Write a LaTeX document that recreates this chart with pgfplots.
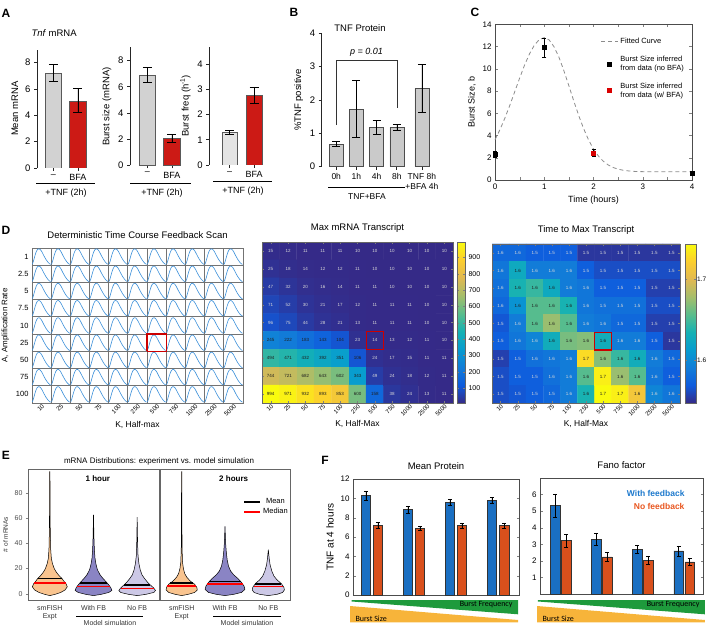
\documentclass[border=0pt]{standalone}
\usepackage{fontspec}
\setmainfont{Liberation Sans}
\newfontfamily\calibri{Carlito}
\usepackage{pgfplots}
\usepackage{pgfplotstable}
\pgfplotsset{compat=1.18}

\definecolor{barGray}{HTML}{D2D2D2}
\definecolor{barLight}{HTML}{E4E4E4}
\definecolor{barRed}{HTML}{CC1A15}
\definecolor{bGray}{HTML}{CACACA}
\definecolor{curveBlue}{HTML}{3A8FD9}
\definecolor{vOrange}{HTML}{F9C48F}
\definecolor{vPurple}{HTML}{8A84C4}
\definecolor{vLav}{HTML}{CCC8E6}
\definecolor{fBlue}{HTML}{1A6FC2}
\definecolor{fOrange}{HTML}{D9501C}
\definecolor{tBlue}{HTML}{1C78CC}
\definecolor{tOrange}{HTML}{E8561F}
\definecolor{wGreen}{HTML}{1E9A3C}
\definecolor{wOrange}{HTML}{F7B43A}
\definecolor{hmLight}{HTML}{D8D8D8}
\definecolor{hmDark}{HTML}{202020}

\newcommand{\fz}[2]{\fontsize{#1}{#2}\selectfont}

\pgfplotsset{
  every axis/.append style={scale only axis, /pgf/number format/assume math mode=true,
    tick label style={font=\fz{8}{9}}, label style={font=\fz{9}{10}}, title style={font=\fz{9.5}{11}},
    legend style={font=\fz{7.5}{9}}},
  pos/.style 2 args={at={(#1pt,#2pt)}, anchor=south west},
  errb/.style={error bars/.cd, y dir=both, y explicit, error bar style={black, line width=0.6pt},
    error mark options={rotate=90, mark size=#1, line width=0.6pt, black}},
  abar/.style={axis y line=left, axis x line=bottom, axis line style={-, black!85, line width=0.7pt},
    x axis line style={draw=none}, tick align=outside, major tick length=3pt,
    tick style={black!85, line width=0.7pt}, ymin=0,
    tick label style={font=\fz{9.5}{11}}, label style={font=\fz{9.5}{11}}, xticklabel style={font=\fz{9}{10}}},
  hm/.style={enlargelimits=false, xmin=0.5, xmax=11.5, ymin=0.5, ymax=9.5, y dir=reverse,
    xtick={1,...,11}, xticklabels={10,25,50,75,100,250,500,750,1000,2500,5000},
    ytick={1,...,9}, yticklabels={}, tick align=inside, major tick length=2pt,
    xticklabel style={rotate=45, anchor=north east, font=\fz{6}{7}, inner sep=0.5pt},
    xlabel={K, Half-Max}, axis on top, axis line style={black!60}},
  ebox/.style={xmin=0.5, xmax=3.5, ymin=-5, ymax=99, xtick={1,2,3},
    xticklabels={{smFISH\\Expt},{With FB},{No FB}},
    xticklabel style={align=center, font=\fz{7}{8.5}, text=black!80},
    x tick style={draw=none}, ytick pos=left, tick align=outside, major tick length=2pt,
    yticklabel style={font=\fz{7}{8}, text=black!70},
    axis line style={black!60, line width=0.9pt}, clip=false},
  fbox/.style={xtick=\empty, tick align=inside, major tick length=2.5pt,
    axis line style={black!70, line width=0.6pt}, clip=false,
    yticklabel style={font=\fz{8}{9}}},
  colormap={parula}{rgb255=(53,42,135) rgb255=(15,92,221) rgb255=(18,125,216) rgb255=(7,156,207) rgb255=(21,177,180) rgb255=(89,189,140) rgb255=(165,190,107) rgb255=(225,185,82) rgb255=(252,206,46) rgb255=(249,251,14)},
}

% single pulse shape drawn in each cell of the scan grid
\pgfplotstableread[row sep=\\]{
t v\\
0.02 0.06\\ 0.07 0.22\\ 0.12 0.42\\ 0.17 0.62\\ 0.22 0.78\\ 0.27 0.89\\ 0.32 0.94\\ 0.37 0.95\\
0.42 0.92\\ 0.47 0.86\\ 0.52 0.77\\ 0.57 0.66\\ 0.62 0.55\\ 0.67 0.45\\ 0.72 0.35\\ 0.77 0.27\\
0.82 0.19\\ 0.87 0.13\\ 0.92 0.08\\ 0.97 0.05\\
}\pulse

\pgfplotstableread[row sep=\\]{
x y v\\
1 1 15\\ 2 1 12\\ 3 1 11\\ 4 1 11\\ 5 1 11\\ 6 1 10\\ 7 1 10\\ 8 1 10\\ 9 1 10\\ 10 1 10\\ 11 1 10\\
1 2 25\\ 2 2 18\\ 3 2 14\\ 4 2 12\\ 5 2 12\\ 6 2 11\\ 7 2 10\\ 8 2 10\\ 9 2 10\\ 10 2 10\\ 11 2 10\\
1 3 47\\ 2 3 32\\ 3 3 20\\ 4 3 16\\ 5 3 14\\ 6 3 11\\ 7 3 11\\ 8 3 10\\ 9 3 10\\ 10 3 10\\ 11 3 10\\
1 4 71\\ 2 4 52\\ 3 4 30\\ 4 4 21\\ 5 4 17\\ 6 4 12\\ 7 4 11\\ 8 4 11\\ 9 4 11\\ 10 4 10\\ 11 4 10\\
1 5 96\\ 2 5 75\\ 3 5 44\\ 4 5 28\\ 5 5 21\\ 6 5 13\\ 7 5 11\\ 8 5 11\\ 9 5 11\\ 10 5 10\\ 11 5 10\\
1 6 245\\ 2 6 222\\ 3 6 183\\ 4 6 143\\ 5 6 104\\ 6 6 23\\ 7 6 14\\ 8 6 13\\ 9 6 12\\ 10 6 11\\ 11 6 10\\
1 7 494\\ 2 7 471\\ 3 7 432\\ 4 7 392\\ 5 7 351\\ 6 7 106\\ 7 7 24\\ 8 7 17\\ 9 7 15\\ 10 7 11\\ 11 7 11\\
1 8 744\\ 2 8 721\\ 3 8 682\\ 4 8 643\\ 5 8 602\\ 6 8 343\\ 7 8 49\\ 8 8 24\\ 9 8 18\\ 10 8 12\\ 11 8 11\\
1 9 994\\ 2 9 971\\ 3 9 932\\ 4 9 893\\ 5 9 853\\ 6 9 600\\ 7 9 158\\ 8 9 38\\ 9 9 24\\ 10 9 13\\ 11 9 11\\
}\mrnatab

\pgfplotstableread[row sep=\\]{
x y f lab\\
1 1 .15 1.6\\ 2 1 .15 1.6\\ 3 1 .12 1.5\\ 4 1 .12 1.5\\ 5 1 .12 1.5\\ 6 1 .03 1.5\\ 7 1 .03 1.5\\ 8 1 .03 1.5\\ 9 1 .03 1.5\\ 10 1 .03 1.5\\ 11 1 .03 1.5\\
1 2 .20 1.6\\ 2 2 .40 1.6\\ 3 2 .22 1.6\\ 4 2 .22 1.6\\ 5 2 .22 1.6\\ 6 2 .12 1.5\\ 7 2 .08 1.5\\ 8 2 .08 1.5\\ 9 2 .08 1.5\\ 10 2 .08 1.5\\ 11 2 .08 1.5\\
1 3 .18 1.6\\ 2 3 .45 1.6\\ 3 3 .50 1.6\\ 4 3 .40 1.6\\ 5 3 .22 1.6\\ 6 3 .20 1.6\\ 7 3 .12 1.5\\ 8 3 .12 1.5\\ 9 3 .12 1.5\\ 10 3 .05 1.5\\ 11 3 .05 1.5\\
1 4 .15 1.6\\ 2 4 .30 1.6\\ 3 4 .55 1.6\\ 4 4 .55 1.6\\ 5 4 .45 1.6\\ 6 4 .20 1.6\\ 7 4 .18 1.5\\ 8 4 .18 1.5\\ 9 4 .18 1.5\\ 10 4 .08 1.5\\ 11 4 .08 1.5\\
1 5 .10 1.5\\ 2 5 .22 1.6\\ 3 5 .55 1.6\\ 4 5 .65 1.6\\ 5 5 .55 1.6\\ 6 5 .22 1.6\\ 7 5 .20 1.6\\ 8 5 .15 1.5\\ 9 5 .15 1.5\\ 10 5 .05 1.5\\ 11 5 .05 1.5\\
1 6 .12 1.5\\ 2 6 .20 1.6\\ 3 6 .25 1.6\\ 4 6 .42 1.6\\ 5 6 .60 1.6\\ 6 6 .62 1.6\\ 7 6 .42 1.6\\ 8 6 .22 1.6\\ 9 6 .22 1.6\\ 10 6 .12 1.5\\ 11 6 .03 1.5\\
1 7 .05 1.5\\ 2 7 .12 1.5\\ 3 7 .18 1.6\\ 4 7 .20 1.6\\ 5 7 .22 1.6\\ 6 7 .92 1.7\\ 7 7 .62 1.6\\ 8 7 .50 1.6\\ 9 7 .42 1.6\\ 10 7 .22 1.6\\ 11 7 .15 1.5\\
1 8 .08 1.5\\ 2 8 .12 1.5\\ 3 8 .12 1.5\\ 4 8 .18 1.6\\ 5 8 .22 1.6\\ 6 8 .55 1.6\\ 7 8 .97 1.7\\ 8 8 .65 1.6\\ 9 8 .55 1.6\\ 10 8 .20 1.6\\ 11 8 .12 1.5\\
1 9 .08 1.5\\ 2 9 .10 1.5\\ 3 9 .12 1.5\\ 4 9 .15 1.5\\ 5 9 .22 1.6\\ 6 9 .45 1.6\\ 7 9 1.0 1.7\\ 8 9 .97 1.7\\ 9 9 .85 1.6\\ 10 9 .25 1.6\\ 11 9 .20 1.6\\
}\timetab

% violin outlines: (y, signed half-width), right side upward then left side downward
\pgfplotstableread[row sep=\\]{
y w\\
-1.5 0\\ -0.5 .12\\ 1 .25\\ 3 .35\\ 5.5 .40\\ 8 .37\\ 10 .32\\ 12 .28\\ 14 .22\\ 17 .15\\ 20 .10\\ 24 .06\\ 28 .035\\ 35 .02\\ 50 .01\\ 70 .006\\ 97 .003\\
97 -.003\\ 70 -.006\\ 50 -.01\\ 35 -.02\\ 28 -.035\\ 24 -.06\\ 20 -.10\\ 17 -.15\\ 14 -.22\\ 12 -.28\\ 10 -.32\\ 8 -.37\\ 5.5 -.40\\ 3 -.35\\ 1 -.25\\ -0.5 -.12\\ -1.5 0\\
}\vA
\pgfplotstableread[row sep=\\]{
y w\\
-1.5 0\\ -0.5 .18\\ 1 .35\\ 2.6 .42\\ 4.5 .40\\ 7 .35\\ 9 .30\\ 12 .22\\ 15 .15\\ 19 .09\\ 23 .06\\ 28 .035\\ 35 .02\\ 45 .01\\ 62.5 0\\
45 -.01\\ 35 -.02\\ 28 -.035\\ 23 -.06\\ 19 -.09\\ 15 -.15\\ 12 -.22\\ 9 -.30\\ 7 -.35\\ 4.5 -.40\\ 2.6 -.42\\ 1 -.35\\ -0.5 -.18\\ -1.5 0\\
}\vB
\pgfplotstableread[row sep=\\]{
y w\\
-1.5 0\\ -0.5 .20\\ 1 .38\\ 2.5 .42\\ 4.5 .38\\ 7 .30\\ 9 .24\\ 12 .17\\ 15 .11\\ 19 .07\\ 24 .04\\ 30 .02\\ 40 .01\\ 60.7 0\\
40 -.01\\ 30 -.02\\ 24 -.04\\ 19 -.07\\ 15 -.11\\ 12 -.17\\ 9 -.24\\ 7 -.30\\ 4.5 -.38\\ 2.5 -.42\\ 1 -.38\\ -0.5 -.20\\ -1.5 0\\
}\vC
\pgfplotstableread[row sep=\\]{
y w\\
-1.5 0\\ -0.5 .15\\ 1 .30\\ 3 .36\\ 5 .35\\ 7.5 .30\\ 10 .20\\ 13 .12\\ 16 .07\\ 20 .04\\ 25 .02\\ 35 .01\\ 60 .005\\ 97 .003\\
97 -.003\\ 60 -.005\\ 35 -.01\\ 25 -.02\\ 20 -.04\\ 16 -.07\\ 13 -.12\\ 10 -.20\\ 7.5 -.30\\ 5 -.35\\ 3 -.36\\ 1 -.30\\ -0.5 -.15\\ -1.5 0\\
}\vD
\pgfplotstableread[row sep=\\]{
y w\\
-1.5 0\\ -0.5 .20\\ 1 .38\\ 3.4 .46\\ 6 .44\\ 9 .38\\ 12 .30\\ 15 .20\\ 18 .13\\ 22 .08\\ 27 .05\\ 33 .03\\ 40 .015\\ 53.4 0\\
40 -.015\\ 33 -.03\\ 27 -.05\\ 22 -.08\\ 18 -.13\\ 15 -.20\\ 12 -.30\\ 9 -.38\\ 6 -.44\\ 3.4 -.46\\ 1 -.38\\ -0.5 -.20\\ -1.5 0\\
}\vE
\pgfplotstableread[row sep=\\]{
y w\\
-1.5 0\\ -0.5 .20\\ 1 .33\\ 3 .37\\ 5 .36\\ 8 .30\\ 11 .20\\ 14 .13\\ 18 .08\\ 23 .04\\ 28 .02\\ 35 0\\
28 -.02\\ 23 -.04\\ 18 -.08\\ 14 -.13\\ 11 -.20\\ 8 -.30\\ 5 -.36\\ 3 -.37\\ 1 -.33\\ -0.5 -.20\\ -1.5 0\\
}\vF

\newcommand{\violin}[3]{%
\addplot[fill=#3, draw=black, line width=0.5pt, forget plot] table[x expr=#2+\thisrow{w}, y=y]{#1} -- cycle;
}

\begin{document}
\begin{tikzpicture}[x=1pt,y=1pt]
\useasboundingbox (0,0) rectangle (708,629);

% ---------------- Panel A ----------------
\begin{axis}[pos={37}{461}, width=58pt, height=118.5pt, abar, xmin=0.33, xmax=2.7, ymax=9,
  ytick={0,2,4,6,8}, xtick={1,2}, xticklabels={--,BFA}, ylabel={Mean mRNA}]
\addplot[ybar, bar width=16.7pt, bar shift=0pt, fill=barGray, draw=black!65, line width=0.6pt, errb=4.5pt]
  coordinates {(1,7.2) +- (0,0.65)};
\addplot[ybar, bar width=16.7pt, bar shift=0pt, fill=barRed, draw=black!65, line width=0.6pt, errb=4.5pt]
  coordinates {(2,5.03) += (0,1.02) -= (0,0.8)};
\end{axis}

\begin{axis}[pos={130}{463.5}, width=61pt, height=118pt, abar, xmin=0.286, xmax=2.78, ymax=9,
  ytick={0,2,4,6,8}, xtick={1,2}, xticklabels={--,BFA}, ylabel={Burst size (mRNA)}]
\addplot[ybar, bar width=16.4pt, bar shift=0pt, fill=barGray, draw=black!65, line width=0.6pt, errb=4.5pt]
  coordinates {(1,6.9) +- (0,0.57)};
\addplot[ybar, bar width=16.4pt, bar shift=0pt, fill=barRed, draw=black!65, line width=0.6pt, errb=4.5pt]
  coordinates {(2,2.1) +- (0,0.3)};
\end{axis}

\begin{axis}[pos={209.3}{464}, width=62.7pt, height=118.4pt, abar, xmin=0.163, xmax=2.73, ymax=4.7,
  ytick={0,1,2,3,4}, xtick={1,2}, xticklabels={--,BFA}, ylabel={Burst freq (h\textsuperscript{-1})}]
\addplot[ybar, bar width=15.6pt, bar shift=0pt, fill=barLight, draw=black!65, line width=0.6pt, errb=4.5pt]
  coordinates {(1,1.29) +- (0,0.08)};
\addplot[ybar, bar width=15.6pt, bar shift=0pt, fill=barRed, draw=black!65, line width=0.6pt, errb=4.5pt]
  coordinates {(2,2.78) +- (0,0.32)};
\end{axis}

\node[anchor=west, font=\fz{9.5}{11}] at (28,596) {\textit{Tnf} mRNA};
\draw[line width=0.7pt] (36,446) -- (95,446);
\node[font=\fz{9}{10}] at (66,436) {+TNF (2h)};
\draw[line width=0.7pt] (130,446) -- (191,446);
\node[font=\fz{9}{10}] at (162,436) {+TNF (2h)};
\draw[line width=0.7pt] (213,448) -- (272,448);
\node[font=\fz{9}{10}] at (243,438) {+TNF (2h)};

% ---------------- Panel B ----------------
\begin{axis}[pos={321.7}{462.3}, width=112.3pt, height=133.3pt, abar, xmin=-0.72, xmax=4.84, ymax=4,
  ytick={0,1,2,3,4}, xtick={0,1,2,3,4.24}, xticklabels={0h,1h,4h,8h,{TNF 8h\\+BFA 4h}},
  xticklabel style={align=center, font=\fz{8.5}{10}}, ylabel={\%TNF positive}]
\addplot[ybar, bar width=14pt, bar shift=0pt, fill=bGray, draw=black!70, line width=0.6pt, errb=4pt]
  coordinates {(0,0.68) +- (0,0.075) (1,1.73) +- (0,0.86) (2,1.18) +- (0,0.21) (3,1.18) +- (0,0.1) (4.24,2.35) +- (0,0.73)};
\addplot[black!80, line width=0.6pt] coordinates {(0,1.25) (0,3.2) (3,3.2) (3,1.75)};
\node[font=\itshape\fz{9}{10}] at (axis cs:1.5,3.43) {p = 0.01};
\end{axis}
\node[font=\fz{9.5}{11}] at (360,601) {TNF Protein};
\draw[line width=0.7pt] (328,442) -- (405,442);
\node[font=\fz{8.5}{10}] at (367,432) {TNF+BFA};

% ---------------- Panel C ----------------
\begin{axis}[pos={495}{449}, width=197pt, height=155.7pt, xmin=0, xmax=4, ymin=0, ymax=14,
  xtick={0,...,4}, ytick={0,2,...,14}, minor x tick num=1, tick align=inside, major tick length=3pt,
  axis line style={black!70}, clip=false, xlabel={Time (hours)}, ylabel={Burst Size, b},
  legend cell align=left,
  legend style={at={(0.985,0.94)}, anchor=north east, draw=none, fill=none, row sep=7pt,
    cells={align=left}, font=\fz{7.5}{9}}]
\addplot[black!45, dash pattern=on 4pt off 3pt, line width=0.8pt] coordinates {
(0,3.62)(0.1,4.52)(0.2,5.56)(0.3,6.71)(0.4,7.93)(0.5,9.16)(0.6,10.33)(0.7,11.34)(0.8,12.13)(0.9,12.63)
(1,12.8)(1.1,12.59)(1.2,11.97)(1.3,11.02)(1.4,9.81)(1.5,8.47)(1.6,7.10)(1.7,5.79)(1.8,4.61)(1.9,3.60)
(2,2.78)(2.1,2.15)(2.2,1.68)(2.3,1.35)(2.4,1.12)(2.5,0.97)(2.6,0.88)(2.7,0.82)(2.8,0.78)(2.9,0.76)
(3,0.75)(3.5,0.75)(4,0.75)};
\addlegendentry{Fitted Curve}
\addplot[only marks, mark=square*, mark size=2pt, black, errb=2pt]
  coordinates {(0,2.3) +- (0,0.3) (1,11.9) +- (0,0.85) (4,0.65) +- (0,0.1)};
\addlegendentry{Burst Size inferred\\from data (no BFA)}
\addplot[only marks, mark=square*, mark size=2pt, red!85!black, errb=2pt]
  coordinates {(2,2.45) +- (0,0.3)};
\addlegendentry{Burst Size inferred\\from data (w/ BFA)}
\end{axis}

% ---------------- Panel D: scan grid ----------------
\begin{axis}[pos={32}{226}, width=211pt, height=155pt, xmin=0, xmax=11, ymin=0, ymax=9,
  xtick={0.5,1.5,...,10.5}, xticklabels={10,25,50,75,100,250,500,750,1000,2500,5000},
  ytick={0.5,1.5,...,8.5}, yticklabels={100,75,50,25,10,7.5,5,2.5,1},
  major tick length=0pt, minor xtick={1,...,10}, minor ytick={1,...,8}, minor tick length=0pt,
  grid=minor, minor grid style={black!55, line width=0.9pt}, axis line style={black!55, line width=0.9pt},
  xticklabel style={rotate=45, anchor=north east, font=\fz{6.2}{7}, inner sep=0.5pt}, yticklabel style={font=\fz{7.5}{8}},
  xlabel={K, Half-max}, ylabel={A, Amplification Rate}, ylabel style={font=\fz{8}{9}},
  xlabel style={font=\fz{8.5}{10}}, title={Deterministic Time Course Feedback Scan}]
\foreach \ci in {0,...,10}{
  \foreach \ri in {0,...,8}{
    \addplot[curveBlue, line width=0.6pt] table[x expr=\thisrow{t}+\ci, y expr=\thisrow{v}+\ri]{\pulse};
  }
}
\addplot[red!80!black, line width=1.3pt] coordinates {(6,3)(7,3)(7,4)(6,4)(6,3)};
\end{axis}

% ---------------- Panel D: Max mRNA heatmap ----------------
\begin{axis}[pos={262}{226}, width=191pt, height=161pt, hm, title={Max mRNA Transcript},
  xlabel style={font=\fz{8.5}{10}},
  colormap name=parula, point meta min=10, point meta max=994, colorbar,
  colorbar style={at={(parent axis.north east)}, anchor=north west, xshift=-4.5pt, width=8pt,
    ytick={100,200,...,900}, yticklabel style={font=\fz{7}{8}}, major tick length=2pt, axis line style={black!60}}]
\addplot[matrix plot*, mesh/cols=11, point meta=explicit] table[x=x, y=y, meta=v]{\mrnatab};
\addplot[only marks, mark=none, point meta=explicit symbolic, nodes near coords, nodes near coords align={center},
  nodes near coords style={font=\fz{4.5}{5}, text=hmLight},
  restrict expr to domain={\thisrow{v}}{0:99}] table[x=x, y=y, meta=v]{\mrnatab};
\addplot[only marks, mark=none, point meta=explicit symbolic, nodes near coords, nodes near coords align={center},
  nodes near coords style={font=\fz{4.5}{5}, text=hmDark},
  restrict expr to domain={\thisrow{v}}{100:2000}] table[x=x, y=y, meta=v]{\mrnatab};
\addplot[red!80!black, line width=1.2pt] coordinates {(6.5,5.5)(7.5,5.5)(7.5,6.5)(6.5,6.5)(6.5,5.5)};
\end{axis}

% ---------------- Panel D: Time to max heatmap ----------------
\begin{axis}[pos={492}{226}, width=188pt, height=159pt, hm, title={Time to Max Transcript},
  xlabel style={font=\fz{8.5}{10}},
  colormap name=parula, point meta min=0, point meta max=1, colorbar,
  colorbar style={at={(parent axis.north east)}, anchor=north west, xshift=-3.5pt, width=11pt,
    ytick={0.268,0.777}, yticklabels={1.6,1.7}, yticklabel style={font=\fz{6.5}{7}, inner sep=1pt},
    major tick length=2pt, axis line style={black!60}}]
\addplot[matrix plot*, mesh/cols=11, point meta=explicit] table[x=x, y=y, meta=f]{\timetab};
\addplot[only marks, mark=none, point meta=explicit symbolic, nodes near coords, nodes near coords align={center},
  nodes near coords style={font=\fz{4.5}{5}, text=hmLight},
  restrict expr to domain={\thisrow{f}}{0:0.29}] table[x=x, y=y, meta=lab]{\timetab};
\addplot[only marks, mark=none, point meta=explicit symbolic, nodes near coords, nodes near coords align={center},
  nodes near coords style={font=\fz{4.5}{5}, text=hmDark},
  restrict expr to domain={\thisrow{f}}{0.3:2}] table[x=x, y=y, meta=lab]{\timetab};
\addplot[red!80!black, line width=1.2pt] coordinates {(6.5,5.5)(7.5,5.5)(7.5,6.5)(6.5,6.5)(6.5,5.5)};
\end{axis}

% ---------------- Panel E ----------------
\begin{axis}[pos={28}{29}, width=131pt, height=131pt, ebox, ytick={0,20,...,80},
  ylabel={\# of mRNAs}, ylabel style={font=\fz{6.5}{7}, text=black!80}]
\violin{\vA}{1}{vOrange}
\violin{\vB}{2}{vPurple}
\violin{\vC}{3}{vLav}
\addplot[black, line width=1.3pt, forget plot] coordinates {(0.73,12.3)(1.27,12.3)};
\addplot[red, line width=1.3pt, forget plot] coordinates {(0.64,8.6)(1.36,8.6)};
\addplot[black, line width=1.3pt, forget plot] coordinates {(1.69,8.4)(2.31,8.4)};
\addplot[red, line width=1.3pt, forget plot] coordinates {(1.63,5.7)(2.37,5.7)};
\addplot[black, line width=1.3pt, forget plot] coordinates {(2.7,7)(3.3,7)};
\addplot[red, line width=1.3pt, forget plot] coordinates {(2.62,4.4)(3.38,4.4)};
\node[font=\bfseries\fz{8}{9}] at (axis cs:2.1,91) {1 hour};
\end{axis}

\begin{axis}[pos={160}{29}, width=130pt, height=131pt, ebox, ytick=\empty,
  legend style={at={(0.63,0.80)}, anchor=north west, draw=none, fill=none, font=\fz{7.5}{8.5},
    inner sep=1pt, row sep=-1pt},
  legend image code/.code={\draw[#1] (0pt,0pt) -- (16pt,0pt);}]
\violin{\vD}{1}{vOrange}
\violin{\vE}{2}{vPurple}
\violin{\vF}{3}{vLav}
\addplot[black, line width=1.3pt, forget plot] coordinates {(0.73,8.4)(1.27,8.4)};
\addplot[red, line width=1.3pt, forget plot] coordinates {(0.67,6)(1.33,6)};
\addplot[black, line width=1.3pt, forget plot] coordinates {(1.64,9.9)(2.36,9.9)};
\addplot[red, line width=1.3pt, forget plot] coordinates {(1.58,7.8)(2.42,7.8)};
\addplot[black, line width=1.3pt, forget plot] coordinates {(2.7,7.8)(3.3,7.8)};
\addplot[red, line width=1.3pt, forget plot] coordinates {(2.66,5.7)(3.34,5.7)};
\addlegendimage{black, line width=2pt}
\addlegendentry{Mean}
\addlegendimage{red, line width=2pt}
\addlegendentry{Median}
\node[font=\bfseries\fz{8}{9}] at (axis cs:2.2,91) {2 hours};
\end{axis}
\node[font=\fz{8}{9}] at (159,168) {mRNA Distributions: experiment vs. model simulation};
\draw[line width=0.6pt] (76,13) -- (143,13);
\node[font=\fz{7}{8}, text=black!80] at (110,6) {Model simulation};
\draw[line width=0.6pt] (213,13) -- (281,13);
\node[font=\fz{7}{8}, text=black!80] at (247,6) {Model simulation};

% ---------------- Panel F ----------------
\begin{axis}[pos={353}{34}, width=166pt, height=116pt, fbox, xmin=0.55, xmax=4.5, ymin=0, ymax=12,
  ytick={0,2,...,12}, ylabel={TNF at 4 hours}, ylabel style={font=\fz{10}{11}}, title={Mean Protein}]
\addplot[fill=wGreen, draw=none] coordinates {(0.519,-0.517)(4.479,-0.517)(4.479,-1.996)(0.519,-0.672)} -- cycle;
\addplot[fill=wOrange, draw=none] coordinates {(0.479,-1.138)(4.479,-2.585)(4.479,-2.823)(0.479,-2.823)} -- cycle;
\addplot[ybar, bar width=9.5pt, bar shift=0pt, fill=fBlue, draw=black!80, line width=0.5pt, errb=2pt]
  coordinates {(0.857,10.27) +- (0,0.5) (1.857,8.85) +- (0,0.37) (2.857,9.56) +- (0,0.3) (3.857,9.77) +- (0,0.3)};
\addplot[ybar, bar width=9.5pt, bar shift=0pt, fill=fOrange, draw=black!80, line width=0.5pt, errb=2pt]
  coordinates {(1.143,7.2) +- (0,0.3) (2.143,6.9) +- (0,0.25) (3.143,7.2) +- (0,0.25) (4.143,7.2) +- (0,0.25)};
\end{axis}

\begin{axis}[pos={540}{35}, width=163pt, height=116pt, fbox, xmin=0.5, xmax=4.46, ymin=0, ymax=7,
  ytick={1,...,6}, title={Fano factor}]
\addplot[fill=wGreen, draw=none] coordinates {(0.451,-0.362)(4.505,-0.362)(4.505,-1.225)(0.451,-0.453)} -- cycle;
\addplot[fill=wOrange, draw=none] coordinates {(0.427,-0.724)(4.505,-1.569)(4.505,-1.708)(0.427,-1.708)} -- cycle;
\addplot[ybar, bar width=9.5pt, bar shift=0pt, fill=fBlue, draw=black!80, line width=0.5pt, errb=2pt]
  coordinates {(0.866,5.34) +- (0,0.7) (1.866,3.28) +- (0,0.36) (2.866,2.68) +- (0,0.25) (3.866,2.6) +- (0,0.3)};
\addplot[ybar, bar width=9.5pt, bar shift=0pt, fill=fOrange, draw=black!80, line width=0.5pt, errb=2pt]
  coordinates {(1.134,3.22) +- (0,0.38) (2.134,2.24) +- (0,0.26) (3.134,2.04) +- (0,0.25) (4.134,1.94) +- (0,0.2)};
\end{axis}
\node[anchor=east, font=\bfseries\fz{8.5}{10}, text=tBlue] at (688,136) {With feedback};
\node[anchor=east, font=\bfseries\fz{8.5}{10}, text=tOrange] at (688,123) {No feedback};
\node[anchor=east, font=\calibri\fz{8}{9}] at (516,24.7) {Burst Frequency};
\node[anchor=west, font=\calibri\fz{8}{9}] at (352,10.7) {Burst Size};
\node[anchor=east, font=\calibri\fz{8}{9}] at (703,24.7) {Burst Frequency};
\node[anchor=west, font=\calibri\fz{8}{9}] at (539,10.7) {Burst Size};

% ---------------- Panel letters ----------------
\node[font=\bfseries\fz{12}{13}] at (6,616) {A};
\node[font=\bfseries\fz{12}{13}] at (294,617) {B};
\node[font=\bfseries\fz{12}{13}] at (475,617) {C};
\node[font=\bfseries\fz{12}{13}] at (6,399) {D};
\node[font=\bfseries\fz{12}{13}] at (6,174) {E};
\node[font=\bfseries\fz{12}{13}] at (325,169) {F};
\end{tikzpicture}
\end{document}
